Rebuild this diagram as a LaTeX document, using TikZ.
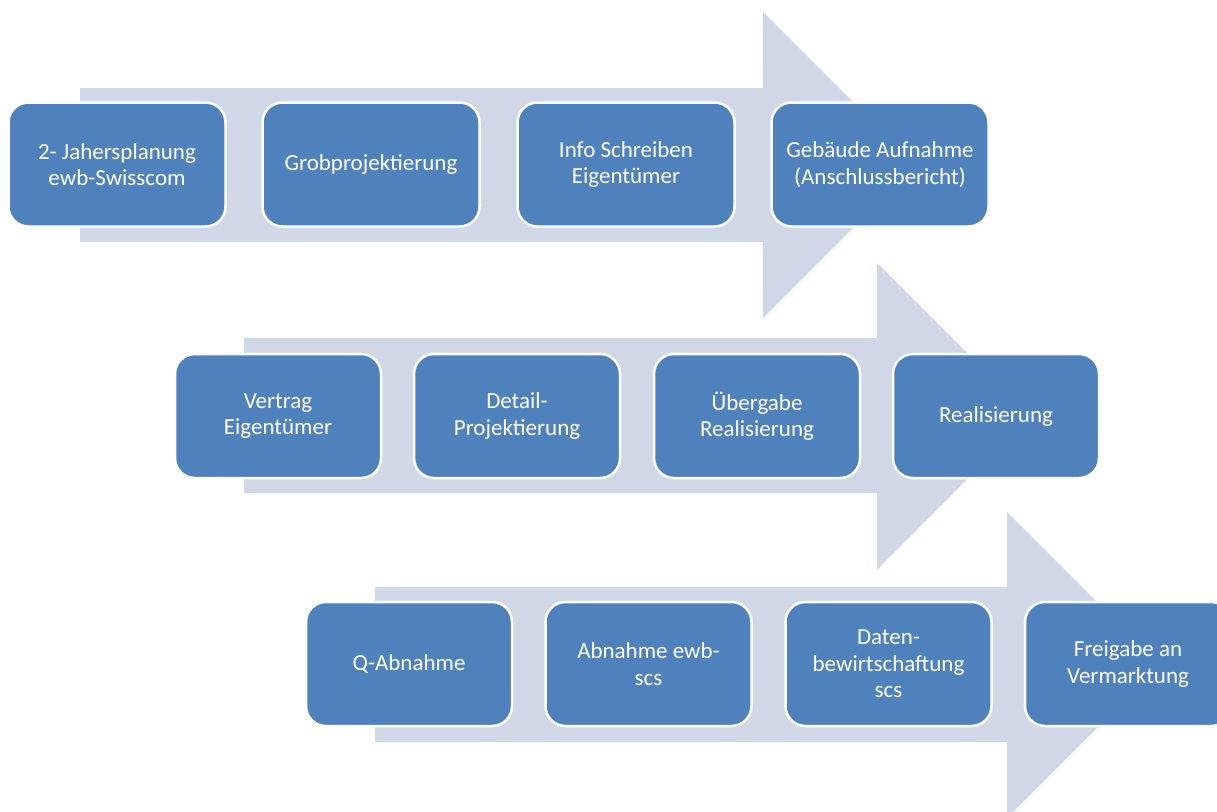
\documentclass[tikz,border=0pt]{standalone}
\usepackage{fontspec}
\setmainfont{Carlito}
\definecolor{boxblue}{HTML}{4F81BD}
\definecolor{arrowgray}{HTML}{D0D8E8}

\begin{document}
\begin{tikzpicture}[x=1pt,y=-1pt,
	stepbox/.style={draw=white,line width=2.5pt,fill=boxblue,rounded corners=20pt,
		text=white,align=center,font=\fontsize{23}{26.5}\selectfont,
		minimum width=#1,minimum height=124pt,inner sep=2pt},
	stepbox/.default=217pt]
		\clip (0,0) rectangle (1217,811);
		\fill[white] (0,0) rectangle (1217,811);
		
		\fill[arrowgray] (80,88) -- (763,88) -- (763,12) -- (916,165) -- (763,318) -- (763,242) -- (80,242) -- cycle;
		\fill[arrowgray] (244,338) -- (877,338) -- (877,263) -- (1030,416) -- (877,570) -- (877,493) -- (244,493) -- cycle;
		\fill[arrowgray] (375,587) -- (1007,587) -- (1007,512) -- (1160,665) -- (1007,818) -- (1007,742) -- (375,742) -- cycle;
		
		\draw (117,164.5) node[stepbox] (plan) {2- Jahersplanung\\ewb-Swisscom} ;
		\draw (371,164.5) node[stepbox] (grob) {Grobprojektierung} ;
		\draw (626,164.5) node[stepbox] (info) {Info Schreiben\\Eigentümer} ;
		\draw (880,164.5) node[stepbox] (aufn) {Gebäude Aufnahme\\(Anschlussbericht)} ;
		
		\draw (278,416) node[stepbox=206pt] (vertr) {Vertrag\\Eigentümer} ;
		\draw (517,416) node[stepbox=206pt] (detail) {Detail-\\Projektierung} ;
		\draw (757,416) node[stepbox=206pt] (ueber) {Übergabe\\Realisierung} ;
		\draw (996,416) node[stepbox=206pt] (real) {Realisierung} ;
		
		\draw (409,664) node[stepbox=206pt] (qab) {Q-Abnahme} ;
		\draw (648.5,664) node[stepbox=206pt] (abn) {Abnahme ewb-\\scs} ;
		\draw (888.5,664) node[stepbox=206pt] (daten) {Daten-\\bewirtschaftung\\scs} ;
		\draw (1128,664) node[stepbox=206pt] (frei) {Freigabe an\\Vermarktung} ;
\end{tikzpicture}
\end{document}
